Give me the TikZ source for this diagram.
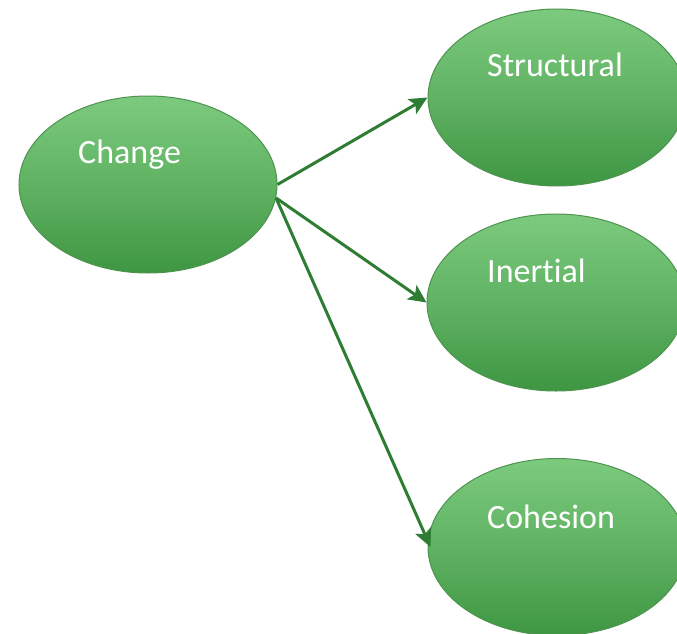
\documentclass[tikz,border=0pt]{standalone}
\usepackage{fontspec}
\setmainfont[Ligatures=NoCommon]{Carlito}
\usetikzlibrary{shapes.geometric,arrows.meta}
\definecolor{blobTop}{RGB}{124,202,126}
\definecolor{blobBottom}{RGB}{62,150,66}
\definecolor{blobEdge}{RGB}{78,148,80}
\definecolor{linkGreen}{RGB}{46,125,50}
\tikzset{
  blob/.style={ellipse, draw=blobEdge, line width=1pt,
    top color=blobTop, bottom color=blobBottom, middle color=blobTop!55!blobBottom,
    minimum width=258pt, minimum height=177pt, inner sep=0pt},
  lbl/.style={anchor=base west, text=white, font=\fontsize{34}{40}\selectfont, inner sep=0pt},
  link/.style={draw=linkGreen, line width=3pt,
    -{Stealth[length=18pt,width=17pt,inset=4pt]}}
}
\begin{document}
\begin{tikzpicture}[x=1pt,y=-1pt]
  \useasboundingbox (0,0) rectangle (677,634);
  % ellipses
  \node[blob] (change) at (148,184.5) {};
  \node[blob] (structural) at (557,97.5) {};
  \node[blob] (inertial) at (556,302.5) {};
  \node[blob] (cohesion) at (557,547) {};
  % labels
  \node[lbl] (changeTxt) at (78,163) {Change};
  \node[lbl] (structuralTxt) at (487,77) {Structural};
  \node[lbl] (inertialTxt) at (487,282) {Inertial};
  \node[lbl] (cohesionTxt) at (487,528) {Cohesion};
  % connectors
  \draw[link] (change.east) -- (structural.west);
  \draw[link] (change.-6) -- (inertial.west);
  \draw[link] (change.-6) -- ([xshift=3pt]cohesion.west);
\end{tikzpicture}
\end{document}
